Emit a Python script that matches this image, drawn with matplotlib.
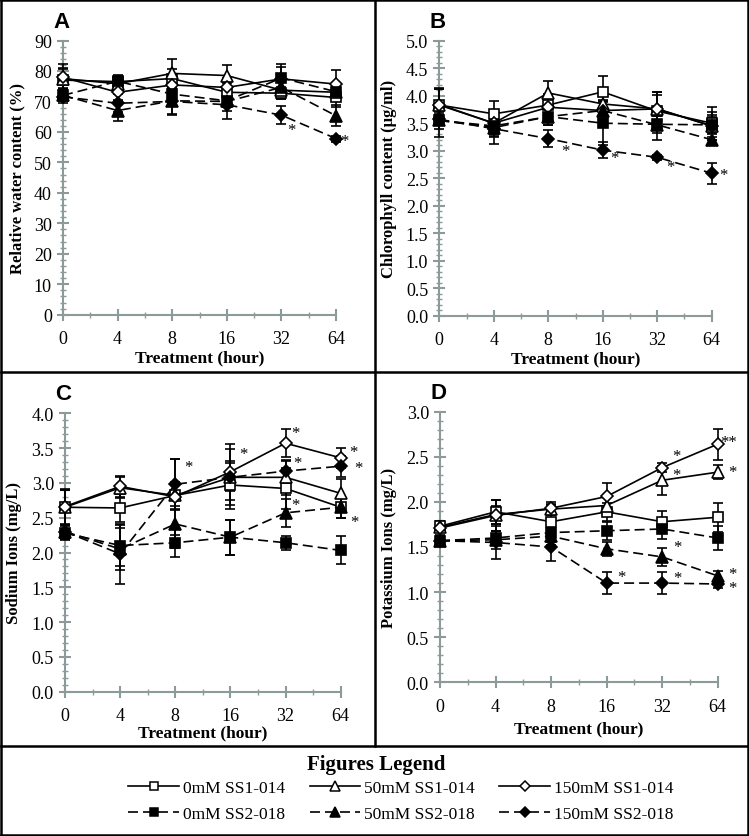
import matplotlib
matplotlib.use('Agg')
import matplotlib.pyplot as plt
from matplotlib.lines import Line2D
import numpy as np

plt.rcParams['font.family'] = 'Liberation Serif'

W, H = 749, 837
hours = ['0', '4', '8', '16', '32', '64']
series_names = ['0mM SS1-014', '50mM SS1-014', '150mM SS1-014',
                '0mM SS2-018', '50mM SS2-018', '150mM SS2-018']

# panel A: relative water content (%)
rwc = {
    '0mM SS1-014':   [77.0, 76.5, 77.5, 73.0, 72.7, 71.3],
    '50mM SS1-014':  [77.5, 75.8, 79.2, 78.5, 73.7, 73.0],
    '150mM SS1-014': [77.9, 73.0, 75.4, 74.6, 77.4, 75.7],
    '0mM SS2-018':   [72.0, 76.6, 72.4, 70.2, 77.7, 73.2],
    '50mM SS2-018':  [72.0, 67.0, 70.2, 70.0, 74.6, 65.3],
    '150mM SS2-018': [71.5, 69.4, 70.0, 68.9, 65.5, 57.8],
}
rwc_err = {
    '0mM SS1-014':   [4.0, 2.0, 3.0, 3.0, 2.0, 3.0],
    '50mM SS1-014':  [3.0, 2.0, 4.8, 3.5, 3.0, 2.0],
    '150mM SS1-014': [4.5, 3.0, 3.0, 3.0, 4.0, 4.5],
    '0mM SS2-018':   [2.0, 2.0, 3.0, 2.0, 4.5, 3.0],
    '50mM SS2-018':  [2.0, 3.5, 4.5, 3.0, 3.0, 3.5],
    '150mM SS2-018': [2.0, 3.0, 4.0, 4.8, 3.0, 1.0],
}

# panel B: chlorophyll content (ug/ml)
chl = {
    '0mM SS1-014':   [3.83, 3.67, 3.83, 4.07, 3.72, 3.50],
    '50mM SS1-014':  [3.83, 3.50, 4.05, 3.85, 3.76, 3.45],
    '150mM SS1-014': [3.84, 3.50, 3.79, 3.73, 3.76, 3.45],
    '0mM SS2-018':   [3.55, 3.45, 3.62, 3.50, 3.48, 3.47],
    '50mM SS2-018':  [3.55, 3.42, 3.62, 3.73, 3.47, 3.20],
    '150mM SS2-018': [3.57, 3.40, 3.22, 3.01, 2.88, 2.59],
}
chl_err = {
    '0mM SS1-014':   [0.30, 0.23, 0.20, 0.28, 0.30, 0.30],
    '50mM SS1-014':  [0.30, 0.20, 0.22, 0.20, 0.30, 0.25],
    '150mM SS1-014': [0.30, 0.20, 0.20, 0.20, 0.30, 0.20],
    '0mM SS2-018':   [0.30, 0.20, 0.15, 0.40, 0.15, 0.15],
    '50mM SS2-018':  [0.15, 0.15, 0.15, 0.15, 0.27, 0.10],
    '150mM SS2-018': [0.10, 0.28, 0.15, 0.15, 0.05, 0.19],
}

# panel C: sodium ions (mg/L)
na = {
    '0mM SS1-014':   [2.65, 2.64, 2.82, 2.97, 2.92, 2.65],
    '50mM SS1-014':  [2.65, 2.93, 2.82, 3.08, 3.08, 2.85],
    '150mM SS1-014': [2.66, 2.95, 2.80, 3.16, 3.57, 3.36],
    '0mM SS2-018':   [2.28, 2.10, 2.14, 2.22, 2.14, 2.03],
    '50mM SS2-018':  [2.30, 2.05, 2.41, 2.22, 2.57, 2.65],
    '150mM SS2-018': [2.30, 1.98, 2.98, 3.08, 3.17, 3.24],
}
na_err = {
    '0mM SS1-014':   [0.25, 0.20, 0.15, 0.35, 0.30, 0.15],
    '50mM SS1-014':  [0.25, 0.15, 0.20, 0.40, 0.25, 0.20],
    '150mM SS1-014': [0.25, 0.15, 0.55, 0.40, 0.20, 0.14],
    '0mM SS2-018':   [0.10, 0.30, 0.20, 0.25, 0.10, 0.20],
    '50mM SS2-018':  [0.10, 0.30, 0.35, 0.25, 0.20, 0.15],
    '150mM SS2-018': [0.10, 0.43, 0.37, 0.20, 0.15, 0.15],
}

# panel D: potassium ions (mg/L)
k = {
    '0mM SS1-014':   [1.73, 1.89, 1.78, 1.89, 1.78, 1.83],
    '50mM SS1-014':  [1.72, 1.86, 1.92, 1.96, 2.24, 2.33],
    '150mM SS1-014': [1.71, 1.85, 1.93, 2.06, 2.38, 2.64],
    '0mM SS2-018':   [1.57, 1.60, 1.66, 1.68, 1.70, 1.60],
    '50mM SS2-018':  [1.57, 1.58, 1.62, 1.48, 1.39, 1.18],
    '150mM SS2-018': [1.57, 1.55, 1.50, 1.10, 1.10, 1.09],
}
k_err = {
    '0mM SS1-014':   [0.05, 0.13, 0.20, 0.10, 0.12, 0.16],
    '50mM SS1-014':  [0.05, 0.10, 0.05, 0.10, 0.16, 0.08],
    '150mM SS1-014': [0.08, 0.17, 0.07, 0.15, 0.05, 0.17],
    '0mM SS2-018':   [0.05, 0.08, 0.10, 0.10, 0.11, 0.13],
    '50mM SS2-018':  [0.05, 0.10, 0.10, 0.08, 0.10, 0.05],
    '150mM SS2-018': [0.05, 0.18, 0.16, 0.12, 0.12, 0.04],
}

# significance marks (x position in category units, y value, text)
stars_a = [(4.19, 60.6, '*'), (5.16, 56.9, '*')]
stars_b = [(2.31, 3.0, '*'), (3.22, 2.86, '*'), (4.25, 2.71, '*'), (5.22, 2.56, '*')]
stars_c = [(2.24, 3.23, '*'), (3.24, 3.41, '*'), (4.17, 3.71, '*'), (4.22, 3.28, '*'),
           (5.23, 3.45, '*'), (5.32, 3.22, '*'), (4.17, 2.68, '*'), (5.24, 2.44, '*')]
stars_d = [(4.26, 2.51, '*'), (5.2, 2.66, '**'), (4.26, 2.30, '*'), (5.26, 2.33, '*'),
           (4.28, 1.50, '*'), (5.26, 1.20, '*'), (3.27, 1.17, '*'), (4.28, 1.16, '*'),
           (5.26, 1.04, '*')]

styles = {
    '0mM SS1-014':   dict(marker='s', ms=7, mfc='white', ls='-'),
    '50mM SS1-014':  dict(marker='^', ms=8, mfc='white', ls='-'),
    '150mM SS1-014': dict(marker='D', ms=6.5, mfc='white', ls='-'),
    '0mM SS2-018':   dict(marker='s', ms=7, mfc='black', ls=(0, (6, 3))),
    '50mM SS2-018':  dict(marker='^', ms=8, mfc='black', ls=(0, (6, 3))),
    '150mM SS2-018': dict(marker='D', ms=6.5, mfc='black', ls=(0, (6, 3))),
}

axis_grey = '#8c9a9a'
fig = plt.figure(figsize=(W / 100, H / 100), dpi=100)


def px_axes(left, right, top, bottom):
    return fig.add_axes([left / W, 1 - bottom / H, (right - left) / W, (bottom - top) / H])


def panel(ax, data, err, ymax, major, minor, ylabel, letter, stars, lab_x, lab_y):
    x = np.arange(len(hours))
    for name in series_names:
        st = styles[name]
        ax.errorbar(x, data[name], yerr=err[name], color='black', lw=1.2,
                    ls=st['ls'], marker=st['marker'], ms=st['ms'], mfc=st['mfc'],
                    mec='black', mew=1.2, capsize=3.5, elinewidth=1.2, capthick=1.2,
                    clip_on=False, zorder=3)
    for sx, sy, s in stars:
        ax.text(sx, sy, s, fontsize=12, ha='center', va='center')
    ax.set_xlim(0, 5)
    ax.set_ylim(0, ymax)
    ax.set_xticks(x)
    ax.set_xticklabels(hours)
    ax.set_xticks(np.arange(0.5, 5, 1), minor=True)
    ax.set_yticks(np.arange(0, ymax + major / 2, major))
    ax.set_yticks(np.arange(0, ymax + minor / 2, minor), minor=True)
    if major < 1:
        ax.set_yticklabels(['%.1f' % v for v in np.arange(0, ymax + major / 2, major)])
    for s in ['top', 'right']:
        ax.spines[s].set_visible(False)
    for s in ['left', 'bottom']:
        ax.spines[s].set_color(axis_grey)
        ax.spines[s].set_linewidth(1.5)
    ax.tick_params(which='major', direction='inout', length=8, width=1.5,
                   color=axis_grey, labelsize=13, pad=4)
    ax.tick_params(axis='x', which='major', pad=7)
    ax.tick_params(which='minor', direction='inout', length=4, width=1.0,
                   color=axis_grey)
    ax.set_ylabel(ylabel, fontsize=12, fontweight='bold')
    ax.set_xlabel('Treatment (hour)', fontsize=12.5, fontweight='bold')
    ax.yaxis.set_label_coords(lab_x, 0.5)
    ax.xaxis.set_label_coords(0.5, lab_y)
    ax.text(-0.035, 1.05, letter, transform=ax.transAxes, fontsize=16,
            fontweight='bold', family='Liberation Sans', va='baseline')


axA = px_axes(63, 336, 41.5, 315.7)
panel(axA, rwc, rwc_err, 90, 10, 2, 'Relative water content (%)', 'A', stars_a, -0.139, -0.125)
axB = px_axes(439.3, 711.7, 41.7, 316.7)
panel(axB, chl, chl_err, 5.0, 0.5, 0.1, 'Chlorophyll content (µg/ml)', 'B', stars_b, -0.155, -0.125)
axC = px_axes(65, 340.7, 414.3, 692.7)
panel(axC, na, na_err, 4.0, 0.5, 0.1, 'Sodium Ions (mg/L)', 'C', stars_c, -0.156, -0.116)
axD = px_axes(440, 717.7, 412.7, 683.3)
panel(axD, k, k_err, 3.0, 0.5, 0.1, 'Potassium Ions (mg/L)', 'D', stars_d, -0.155, -0.139)

# frame lines around panels and legend
frame_kw = dict(color='black', lw=1.8, transform=fig.transFigure)
for (x0, y0, x1, y1) in [(1, 1, 748, 1), (1, 836, 748, 836), (1, 1, 1, 836), (748, 1, 748, 836),
                         (375, 1, 375, 747), (1, 373, 748, 373), (1, 747, 748, 747)]:
    fig.add_artist(Line2D([x0 / W, x1 / W], [1 - y0 / H, 1 - y1 / H], **frame_kw))

fig.text(376 / W, 1 - 765 / H, 'Figures Legend', ha='center', va='center',
         fontsize=15, fontweight='bold')

order = ['0mM SS1-014', '0mM SS2-018', '50mM SS1-014', '50mM SS2-018',
         '150mM SS1-014', '150mM SS2-018']
handles = []
for name in order:
    st = styles[name]
    handles.append(Line2D([], [], color='black', lw=1.2, ls=st['ls'], marker=st['marker'],
                          ms=st['ms'] - 1.5, mfc=st['mfc'], mec='black', mew=1.1))
fig.legend(handles, order, loc='center', bbox_to_anchor=(401 / W, 1 - 802 / H),
           ncol=3, frameon=False, fontsize=12.5, handlelength=2.9, handletextpad=0.25,
           columnspacing=1.4, labelspacing=0.6)

fig.savefig('out.png', dpi=100)
